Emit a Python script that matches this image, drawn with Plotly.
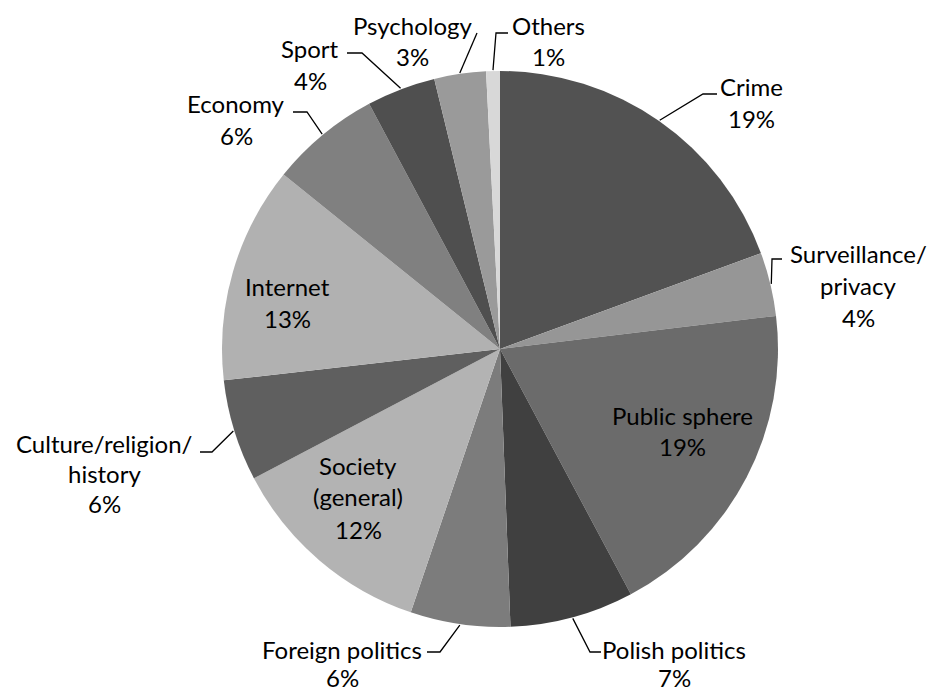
import math
import plotly.graph_objects as go

# ---- data ----
categories = ["Crime", "Surveillance/privacy", "Public sphere", "Polish politics",
              "Foreign politics", "Society (general)", "Culture/religion/history",
              "Internet", "Economy", "Sport", "Psychology", "Others"]
values = [19.4, 3.7, 19.1, 7.2, 5.8, 12.1, 5.9, 12.6, 6.4, 4.0, 3.0, 0.8]
pct_labels = ["19%", "4%", "19%", "7%", "6%", "12%", "6%", "13%", "6%", "4%", "3%", "1%"]
label_lines = [["Crime"], ["Surveillance/", "privacy"], ["Public sphere"], ["Polish politics"],
               ["Foreign politics"], ["Society", "(general)"], ["Culture/religion/", "history"],
               ["Internet"], ["Economy"], ["Sport"], ["Psychology"], ["Others"]]
colors = ["#525252", "#969696", "#6b6b6b", "#404040", "#7c7c7c", "#b3b3b3",
          "#5f5f5f", "#b1b1b1", "#808080", "#4f4f4f", "#9a9a9a", "#d8d8d8"]

# ---- layout geometry (pixels) ----
W, H = 931, 691
CX, CY, R = 500, 349, 278
FONT = "Lato"
FS = 24

# label block positions: (center x, first-line center y, line spacing)
label_pos = [(751, 87, 32), (858, 253, 32), (682, 415, 32), (674, 649, 28), (342, 649, 28),
             (358, 465, 32), (104, 443, 30), (287, 286, 33), (236, 103, 32), (310, 48, 32),
             (412, 25, 32), (548, 25, 32)]
# leader line: list of points after the start point on the pie edge (None = inside label)
leader_pts = [[(703, 94), (717, 94)],
              [(772, 259), (782, 259)],
              None,
              [(590, 652), (601, 652)],
              [(440, 652), (427, 652)],
              None,
              [(212, 452), (200, 452)],
              None,
              [(307, 112), (293, 112)],
              [(362, 53), (347, 53)],
              [(477, 33)],
              [(496, 33), (508, 33)]]


def px(x):
    return x / W


def py(y):
    return 1 - y / H


fig = go.Figure(go.Pie(
    labels=categories,
    values=values,
    sort=False,
    direction="clockwise",
    rotation=0,
    marker=dict(colors=colors, line=dict(width=0)),
    textinfo="none",
    hoverinfo="label+percent",
    showlegend=False,
    domain=dict(x=[px(CX - R), px(CX + R)], y=[py(CY + R), py(CY - R)]),
))

annotations = []
shapes = []
total = sum(values)
cum = 0.0
for i, v in enumerate(values):
    mid = (cum + v / 2) / total * 2 * math.pi
    cum += v
    lx, ly, lh = label_pos[i]
    lines = label_lines[i] + [pct_labels[i]]
    for k, t in enumerate(lines):
        annotations.append(dict(
            x=px(lx), y=py(ly + k * lh), xref="paper", yref="paper",
            text=t, showarrow=False, xanchor="center", yanchor="middle",
            font=dict(family=FONT, size=FS, color="#000000"),
        ))
    if leader_pts[i] is not None:
        sx = CX + (R + 1) * math.sin(mid)
        sy = CY - (R + 1) * math.cos(mid)
        path = "M {} {}".format(px(sx), py(sy))
        for (qx, qy) in leader_pts[i]:
            path += " L {} {}".format(px(qx), py(qy))
        shapes.append(dict(type="path", path=path, xref="paper", yref="paper",
                           line=dict(color="#000000", width=1.3)))

fig.update_layout(
    width=W, height=H,
    margin=dict(l=0, r=0, t=0, b=0),
    paper_bgcolor="white", plot_bgcolor="white",
    annotations=annotations, shapes=shapes,
)

fig.write_html("out.html")
